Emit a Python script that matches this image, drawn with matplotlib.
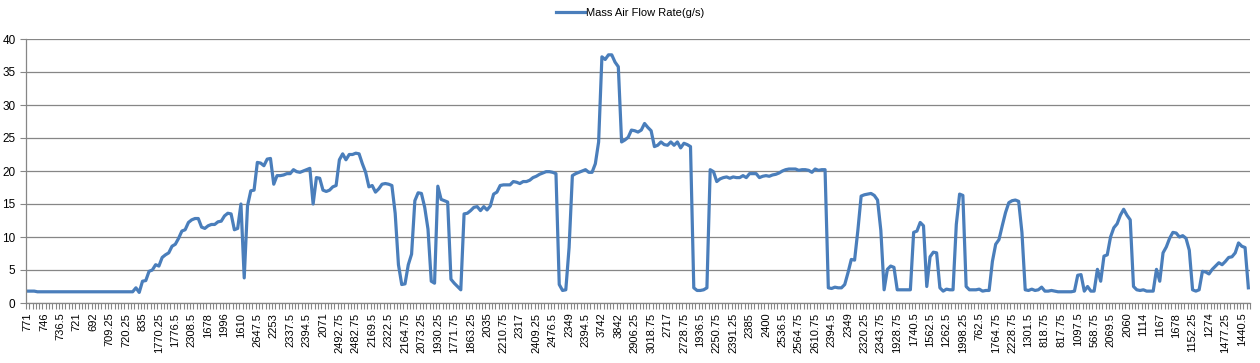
import numpy as np
import matplotlib
matplotlib.use('Agg')
import matplotlib.pyplot as plt

plt.rcParams['font.family'] = ['Liberation Sans', 'DejaVu Sans']

series_name = 'Mass Air Flow Rate(g/s)'

# shown category labels (every 5th category)
tick_labels = [
    '771', '746', '736.5', '721', '692', '709.25', '720.25', '835', '1770.25', '1776.5',
    '2308.5', '1678', '1996', '1610', '2647.5', '2253', '2337.5', '2394.5', '2071', '2492.75',
    '2482.75', '2169.5', '2322.5', '2164.75', '2073.25', '1930.25', '1771.75', '1863.25', '2035', '2210.75',
    '2317', '2409.25', '2476.5', '2349', '2394.5', '3742', '3842', '2906.25', '3018.75', '2717',
    '2728.75', '1936.5', '2250.75', '2391.25', '2385', '2400', '2536.5', '2564.75', '2610.75', '2394.5',
    '2349', '2320.25', '2343.75', '1928.75', '1740.5', '1562.5', '1262.5', '1998.25', '762.5', '1764.75',
    '2228.75', '1301.5', '818.75', '817.75', '1097.5', '568.75', '2069.5', '2060', '1114', '1167',
    '1678', '1152.25', '1274', '1477.25', '1440.5',
]
label_step = 5

maf = [
    1.8, 1.8, 1.8, 1.7, 1.7, 1.7, 1.7, 1.7, 1.7, 1.7,
    1.7, 1.7, 1.7, 1.7, 1.7, 1.7, 1.7, 1.7, 1.7, 1.7,
    1.7, 1.7, 1.7, 1.7, 1.7, 1.7, 1.7, 1.7, 1.7, 1.7,
    1.7, 1.7, 1.7, 2.3, 1.6, 3.3, 3.4, 4.8, 5.0, 5.8,
    5.6, 6.9, 7.3, 7.6, 8.6, 8.9, 9.8, 10.9, 11.1, 12.2,
    12.6, 12.8, 12.8, 11.5, 11.3, 11.7, 11.9, 11.9, 12.3, 12.4,
    13.2, 13.6, 13.5, 11.1, 11.3, 15.0, 3.8, 14.7, 17.0, 17.1,
    21.3, 21.2, 20.8, 21.8, 21.9, 18.0, 19.3, 19.3, 19.4, 19.6,
    19.6, 20.2, 19.9, 19.8, 20.0, 20.2, 20.4, 15.0, 19.0, 18.9,
    17.1, 16.9, 17.1, 17.6, 17.8, 21.7, 22.6, 21.7, 22.5, 22.5,
    22.7, 22.6, 21.1, 19.8, 17.6, 17.8, 16.8, 17.3, 18.0, 18.1,
    18.0, 17.8, 13.6, 5.8, 2.8, 2.9, 5.8, 7.4, 15.5, 16.7,
    16.6, 14.5, 11.2, 3.3, 3.0, 17.7, 15.7, 15.5, 15.3, 3.6,
    3.0, 2.5, 2.0, 13.5, 13.6, 14.0, 14.5, 14.6, 14.0, 14.6,
    14.1, 14.7, 16.5, 16.8, 17.8, 17.9, 17.9, 17.9, 18.4, 18.3,
    18.1, 18.4, 18.4, 18.6, 19.0, 19.2, 19.5, 19.7, 19.9, 19.9,
    19.8, 19.6, 2.8, 1.9, 2.0, 8.4, 19.3, 19.6, 19.8, 20.0,
    20.2, 19.8, 19.8, 21.1, 24.4, 37.3, 36.9, 37.6, 37.6, 36.5,
    35.8, 24.4, 24.7, 25.1, 26.2, 26.1, 25.9, 26.2, 27.2, 26.6,
    26.1, 23.7, 23.9, 24.4, 24.0, 23.9, 24.4, 23.9, 24.4, 23.5,
    24.2, 24.0, 23.7, 2.3, 1.9, 1.9, 2.0, 2.3, 20.2, 19.9,
    18.4, 18.8, 19.0, 19.1, 18.9, 19.1, 19.0, 19.0, 19.3, 19.0,
    19.6, 19.6, 19.6, 19.0, 19.2, 19.3, 19.2, 19.4, 19.5, 19.7,
    20.0, 20.2, 20.3, 20.3, 20.3, 20.1, 20.2, 20.2, 20.1, 19.8,
    20.3, 20.1, 20.2, 20.2, 2.3, 2.2, 2.4, 2.3, 2.3, 2.8,
    4.6, 6.6, 6.5, 11.0, 16.2, 16.4, 16.5, 16.6, 16.3, 15.6,
    11.0, 2.0, 5.1, 5.6, 5.4, 2.0, 2.0, 2.0, 2.0, 2.0,
    10.7, 10.9, 12.2, 11.7, 2.5, 7.0, 7.7, 7.6, 2.3, 1.8,
    2.1, 2.0, 2.0, 11.9, 16.5, 16.3, 2.5, 2.0, 2.0, 2.0,
    2.1, 1.8, 1.9, 1.9, 6.3, 8.9, 9.6, 11.7, 13.7, 15.2,
    15.5, 15.6, 15.4, 10.7, 2.0, 1.9, 2.1, 1.9, 2.0, 2.4,
    1.8, 1.8, 1.9, 1.8, 1.7, 1.7, 1.7, 1.7, 1.7, 1.8,
    4.2, 4.3, 1.8, 2.5, 1.8, 1.8, 5.1, 3.3, 7.1, 7.3,
    10.0, 11.4, 12.0, 13.3, 14.2, 13.3, 12.6, 2.5, 2.0, 1.9,
    2.0, 1.8, 1.8, 1.8, 5.1, 3.3, 7.6, 8.5, 9.8, 10.7,
    10.6, 10.0, 10.2, 9.8, 8.0, 2.0, 1.8, 2.0, 4.8, 4.7,
    4.4, 5.1, 5.6, 6.1, 5.8, 6.3, 6.9, 7.0, 7.6, 9.1,
    8.6, 8.4, 2.3,
]

x = np.arange(len(maf))

fig = plt.figure(figsize=(12.6, 3.63), dpi=100)
ax = fig.add_axes([26 / 1260, 1 - 303 / 363, 1224 / 1260, 264 / 363])

line_color = '#4a7ebb'
grid_color = '#868686'

ax.plot(x, maf, color=line_color, linewidth=2.3, label=series_name,
        solid_joinstyle='round')

ax.set_xlim(-0.5, len(maf) - 0.5)
ax.set_ylim(0, 40)
ax.set_yticks(np.arange(0, 41, 5))
ax.yaxis.grid(True, color=grid_color, linewidth=0.9)
ax.set_axisbelow(True)

ax.set_xticks(np.arange(0, len(maf), label_step))
ax.set_xticklabels(tick_labels, rotation=90, fontsize=8)
ax.set_xticks(np.arange(-0.5, len(maf), 1), minor=True)
ax.tick_params(axis='x', which='major', length=0, pad=7)
ax.tick_params(axis='x', which='minor', length=4, color=grid_color, width=0.8)
ax.tick_params(axis='y', length=4, color=grid_color, width=0.8, labelsize=8.5)

for side in ['top', 'right']:
    ax.spines[side].set_visible(False)
for side in ['left', 'bottom']:
    ax.spines[side].set_color(grid_color)
    ax.spines[side].set_linewidth(0.9)

fig.legend(loc='center', bbox_to_anchor=(0.5, 1 - 13 / 363), frameon=False,
           fontsize=8, handlelength=2.6, handletextpad=0.1)

fig.savefig('out.png', dpi=100)
